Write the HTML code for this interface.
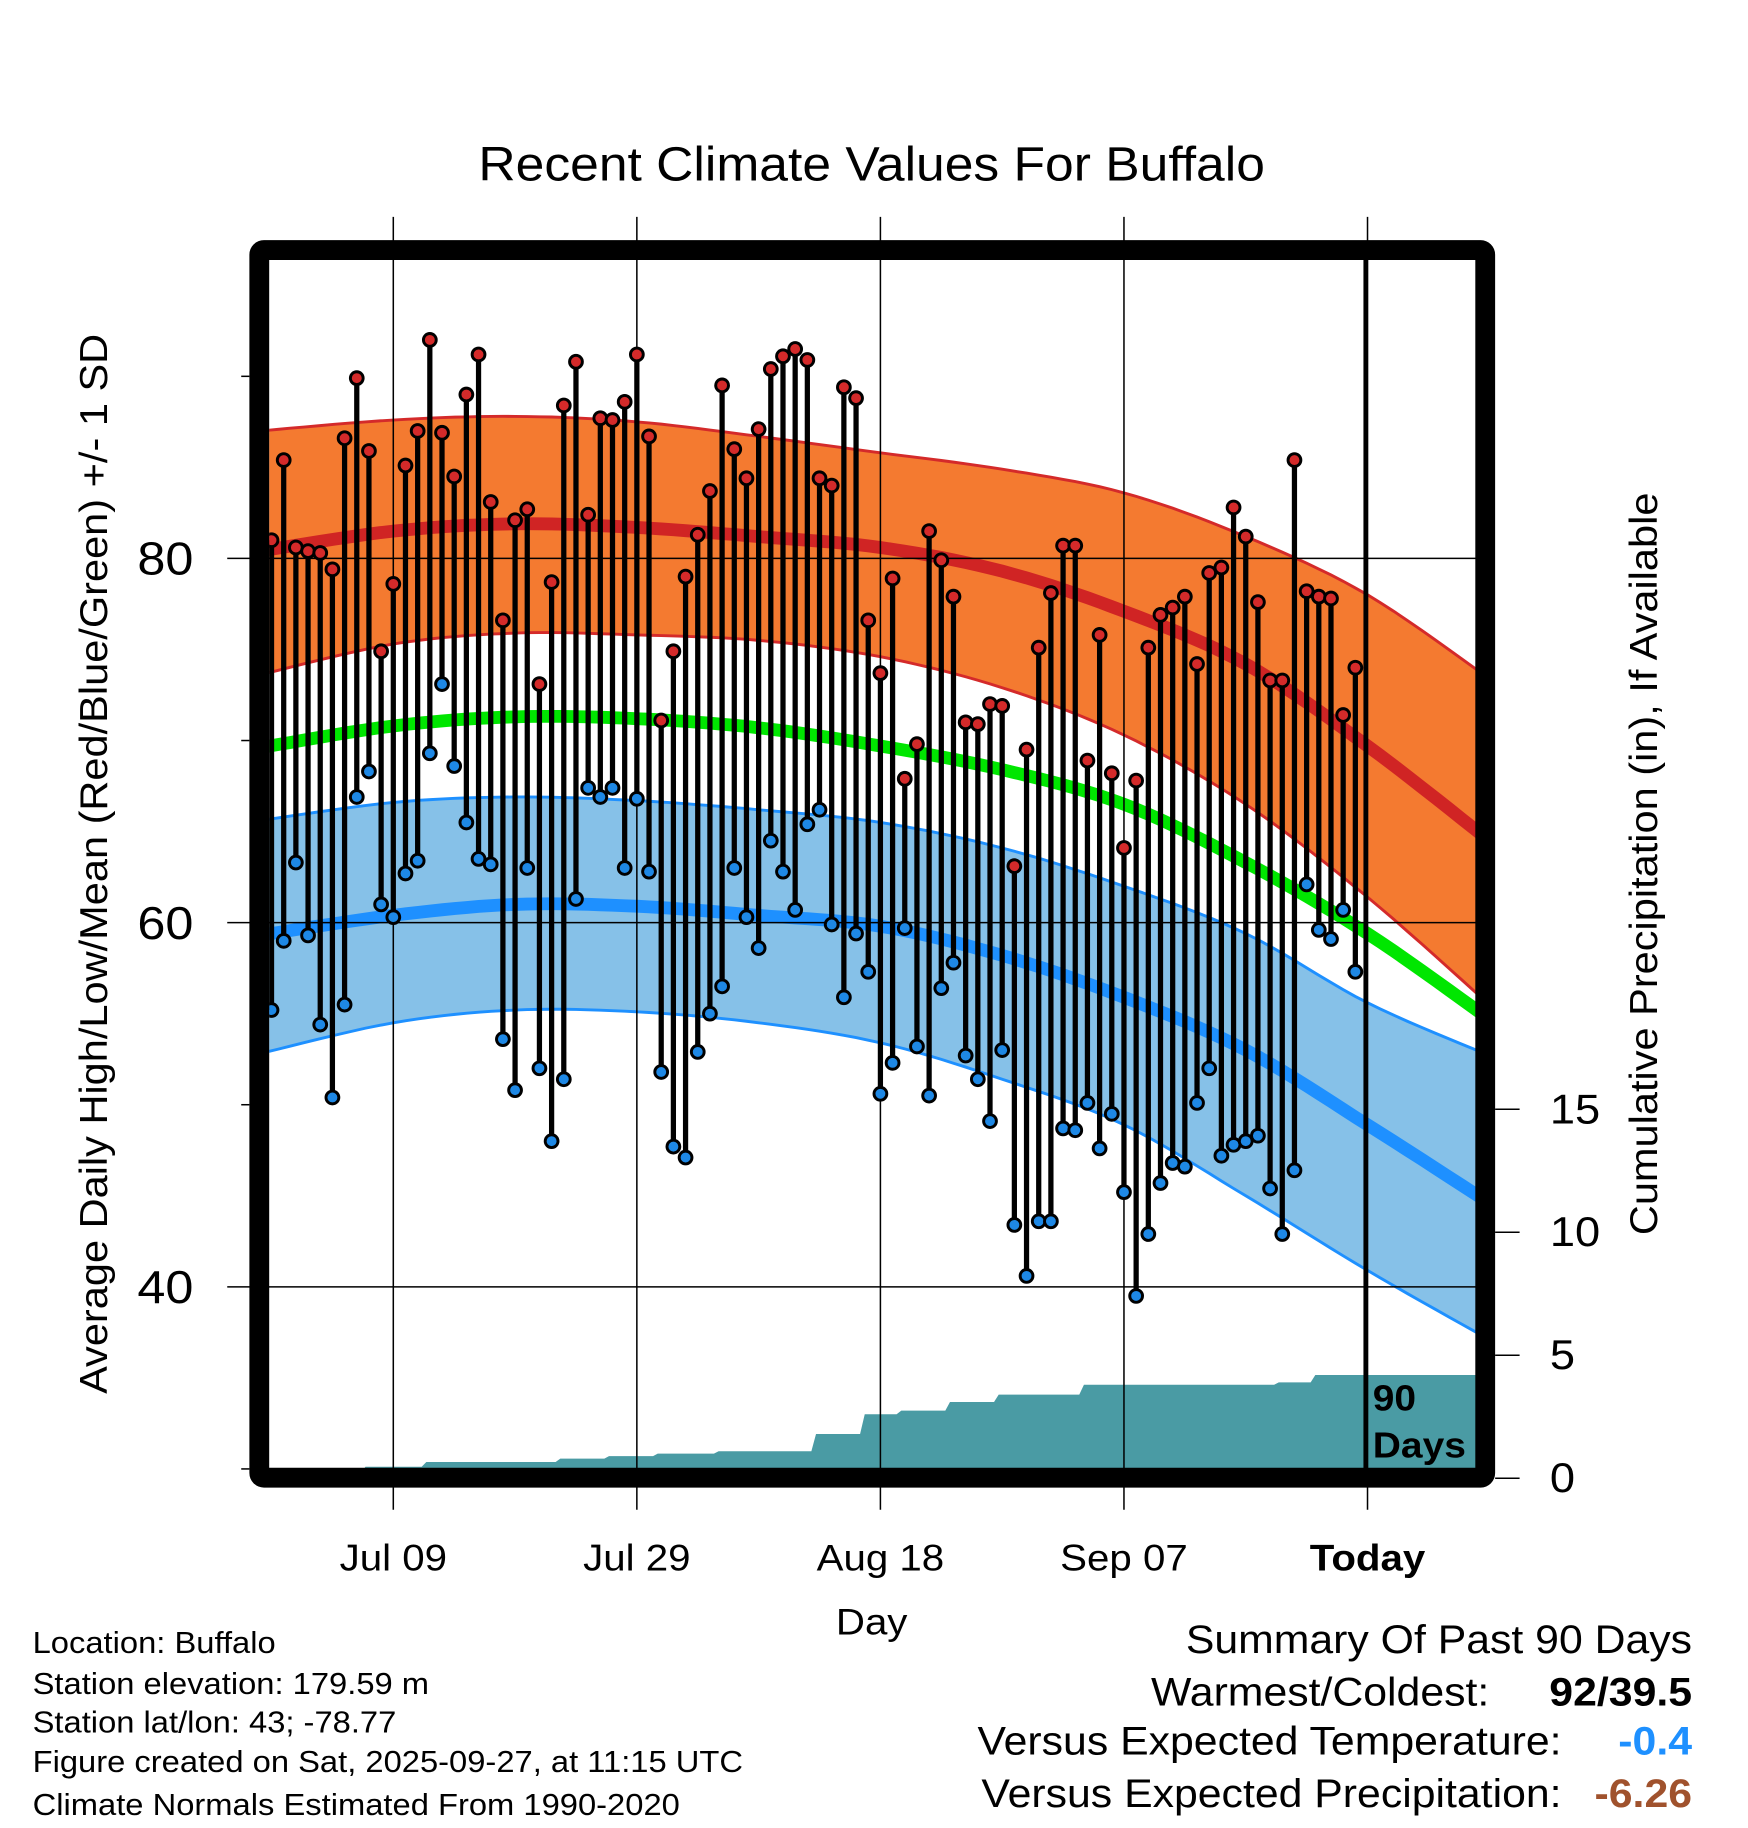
<!DOCTYPE html>
<html><head><meta charset="utf-8"><style>
html,body{margin:0;padding:0;background:#fff;}
svg{display:block;font-family:"Liberation Sans",Arial,sans-serif;}
</style></head><body>
<svg id="chart" width="1748" height="1828" viewBox="0 0 1500 1568" preserveAspectRatio="none" xmlns="http://www.w3.org/2000/svg">
<defs><clipPath id="plotclip"><rect x="231" y="224" width="1036" height="1036"/></clipPath></defs>
<rect width="1500" height="1568" fill="#fff"/>
<text x="748" y="155" font-size="41" text-anchor="middle">Recent Climate Values For Buffalo</text>
<g id="plot" clip-path="url(#plotclip)"></g>
<g id="grid"></g>
<g id="marks" clip-path="url(#plotclip)"></g>
<rect x="222.5" y="214.5" width="1052" height="1053" fill="none" stroke="#000" stroke-width="17" rx="4"/>
<line x1="1172" y1="222" x2="1172" y2="1262" stroke="#000" stroke-width="4"/>
<text x="1178" y="1210" font-size="31" font-weight="bold">90</text>
<text x="1178" y="1250" font-size="31" font-weight="bold">Days</text>
<g id="axes"></g>
<text transform="translate(92,741) rotate(-90)" font-size="33" text-anchor="middle">Average Daily High/Low/Mean (Red/Blue/Green) +/- 1 SD</text>
<text transform="translate(1422,741) rotate(-90)" font-size="33" text-anchor="middle">Cumulative Precipitation (in), If Available</text>
<text x="748" y="1402" font-size="32" text-anchor="middle">Day</text>
<g font-size="26">
<text x="28" y="1418">Location: Buffalo</text>
<text x="28" y="1453">Station elevation: 179.59 m</text>
<text x="28" y="1486">Station lat/lon: 43; -78.77</text>
<text x="28" y="1520">Figure created on Sat, 2025-09-27, at 11:15 UTC</text>
<text x="28" y="1557">Climate Normals Estimated From 1990-2020</text>
</g>
<g font-size="34">
<text x="1452" y="1418" text-anchor="end">Summary Of Past 90 Days</text>
<text x="1278" y="1463" text-anchor="end">Warmest/Coldest:</text>
<text x="1452" y="1463" text-anchor="end" font-weight="bold">92/39.5</text>
<text x="1340" y="1505" text-anchor="end">Versus Expected Temperature:</text>
<text x="1452" y="1505" text-anchor="end" font-weight="bold" fill="#1e90ff">-0.4</text>
<text x="1340" y="1550" text-anchor="end">Versus Expected Precipitation:</text>
<text x="1452" y="1550" text-anchor="end" font-weight="bold" fill="#a0522d">-6.26</text>
</g>
</svg>
<script>
const highs=[81.0,85.4,80.6,80.4,80.3,79.4,86.6,89.9,85.9,74.9,78.6,85.1,87.0,92.0,86.9,84.5,89.0,91.2,83.1,76.6,82.1,82.7,73.1,78.7,88.4,90.8,82.4,87.7,87.6,88.6,91.2,86.7,71.1,74.9,79.0,81.3,83.7,89.5,86.0,84.4,87.1,90.4,91.1,91.5,90.9,84.4,84.0,89.4,88.8,76.6,73.7,78.9,67.9,69.8,81.5,79.9,77.9,71.0,70.9,72.0,71.9,63.1,69.5,75.1,78.1,80.7,80.7,68.9,75.8,68.2,64.1,67.8,75.1,76.9,77.3,77.9,74.2,79.2,79.5,82.8,81.2,77.6,73.3,73.3,85.4,78.2,77.9,77.8,71.4,74.0];
const lows=[55.2,59.0,63.3,59.3,54.4,50.4,55.5,66.9,68.3,61.0,60.3,62.7,63.4,69.3,73.1,68.6,65.5,63.5,63.2,53.6,50.8,63.0,52.0,48.0,51.4,61.3,67.4,66.9,67.4,63.0,66.8,62.8,51.8,47.7,47.1,52.9,55.0,56.5,63.0,60.3,58.6,64.5,62.8,60.7,65.4,66.2,59.9,55.9,59.4,57.3,50.6,52.3,59.7,53.2,50.5,56.4,57.8,52.7,51.4,49.1,53.0,43.4,40.6,43.6,43.6,48.7,48.6,50.1,47.6,49.5,45.2,39.5,42.9,45.7,46.8,46.6,50.1,52.0,47.2,47.8,48.0,48.3,45.4,42.9,46.4,62.1,59.6,59.1,60.7,57.3];
const precip=[0.2,0.2,0.2,0.2,0.2,0.2,0.2,0.2,0.47,0.47,0.47,0.47,0.47,0.66,0.66,0.66,0.66,0.66,0.66,0.66,0.66,0.66,0.66,0.66,0.8,0.8,0.8,0.8,0.9,0.9,0.9,0.9,1.0,1.0,1.0,1.0,1.0,1.1,1.1,1.1,1.1,1.1,1.1,1.1,1.1,1.8,1.8,1.8,1.8,2.6,2.6,2.6,2.75,2.75,2.75,2.75,3.1,3.1,3.1,3.1,3.4,3.4,3.4,3.4,3.4,3.4,3.4,3.8,3.8,3.8,3.8,3.8,3.8,3.8,3.8,3.8,3.8,3.8,3.8,3.8,3.8,3.8,3.8,3.9,3.9,3.9,4.2,4.2,4.2,4.2];
const normDays=[-1,10,20,30,40,50,60,70,80,90,100];
const highSDTop=[87.0,87.6,87.8,87.5,86.7,85.8,84.9,83.6,81.2,78.0,73.4];
const highMean=[80.4,81.5,81.9,81.7,81.2,80.6,79.3,77.1,74.2,69.7,64.5];
const highSDBot=[73.6,75.3,75.9,75.8,75.5,74.6,72.9,70.3,66.5,61.4,55.5];
const meanNorm=[69.6,70.8,71.3,71.2,70.7,69.7,68.4,66.5,63.3,59.4,54.7];
const lowSDTop=[65.6,66.6,66.9,66.7,66.2,65.5,64.1,62.0,59.4,55.6,52.7];
const lowMean=[59.3,60.4,61.0,60.9,60.4,59.8,58.2,55.9,53.0,48.9,44.6];
const lowSDBot=[52.8,54.5,55.2,55.1,54.5,53.4,51.4,48.9,45.0,40.9,37.1];
const tempTicks=[40,60,80];
const minorTicks=[30,50,70,90];
const precipTicks=[0,5,10,15];
const dateLabels=["Jul 09","Jul 29","Aug 18","Sep 07","Today"];
const dateDays=[10,30,50,70,90];

const NS="http://www.w3.org/2000/svg";
const xs=d=>233+d*10.45;
const ys=t=>479-(t-80)*15.62;
const yp=p=>1268-p*21.1;
function el(tag,attrs,parent){const e=document.createElementNS(NS,tag);for(const k in attrs)e.setAttribute(k,attrs[k]);parent.appendChild(e);return e;}
function curvePts(vals){
  const pts=normDays.map((d,i)=>[xs(d),ys(vals[i])]);
  const out=[];
  for(let i=0;i<pts.length-1;i++){
    const p0=pts[Math.max(0,i-1)],p1=pts[i],p2=pts[i+1],p3=pts[Math.min(pts.length-1,i+2)];
    for(let s=0;s<10;s++){const t=s/10,t2=t*t,t3=t2*t;
      out.push([0.5*((2*p1[0])+(-p0[0]+p2[0])*t+(2*p0[0]-5*p1[0]+4*p2[0]-p3[0])*t2+(-p0[0]+3*p1[0]-3*p2[0]+p3[0])*t3),
               0.5*((2*p1[1])+(-p0[1]+p2[1])*t+(2*p0[1]-5*p1[1]+4*p2[1]-p3[1])*t2+(-p0[1]+3*p1[1]-3*p2[1]+p3[1])*t3)]);}
  }
  out.push(pts[pts.length-1]);return out;
}
const toD=pts=>pts.map((p,i)=>(i?'L':'M')+p[0].toFixed(1)+','+p[1].toFixed(1)).join('');
const plot=document.getElementById('plot');
function band(top,bot,fill,edge,name){
  const a=curvePts(top),b=curvePts(bot).reverse();
  const p=el('path',{d:toD(a)+toD(b).replace('M','L')+'Z',fill:fill},plot);
  
  
  const e1=el('path',{d:toD(curvePts(top)),fill:'none',stroke:edge,'stroke-width':2.5},plot);
  
  
  const e2=el('path',{d:toD(curvePts(bot)),fill:'none',stroke:edge,'stroke-width':2.5},plot);
  
  
}
band(highSDTop,highSDBot,'#f47a30','#d42a2a','high-sd-band');
band(lowSDTop,lowSDBot,'#86c1e8','#1e90ff','low-sd-band');
function line(vals,color,w,name){const p=el('path',{d:toD(curvePts(vals)),fill:'none',stroke:color,'stroke-width':w},plot);
  
  }
line(highMean,'#d02424',11,'normal-high-line');
line(meanNorm,'#00e600',11,'normal-mean-line');
line(lowMean,'#1e90ff',11,'normal-low-line');
let pd='M225,'+yp(0);
for(let i=0;i<precip.length;i++){const x0=i===0?225:xs(i)-3,x1=i===precip.length-1?1270:xs(i+1)-7;pd+='L'+x0+','+yp(precip[i])+'L'+x1+','+yp(precip[i]);}
pd+='L1270,'+yp(0)+'Z';
const pa=el('path',{d:pd,fill:'#4a9ba4'},plot);


const grid=document.getElementById('grid');
tempTicks.forEach(t=>{const g=el('line',{x1:195,x2:1267,y1:ys(t),y2:ys(t),stroke:'#000','stroke-width':1.3},grid);
  
  });
dateDays.forEach(d=>{const g=el('line',{x1:xs(d),x2:xs(d),y1:186,y2:1295,stroke:'#000','stroke-width':1.3},grid);
  
  });
const marks=document.getElementById('marks');
highs.forEach((h,i)=>{
  const x=xs(i);
  const s=el('line',{x1:x,x2:x,y1:ys(h),y2:ys(lows[i]),stroke:'#000','stroke-width':4.5},marks);
  
  
});
highs.forEach((h,i)=>{
  const x=xs(i);
  const c1=el('circle',{cx:x,cy:ys(h),r:5.5,fill:'#d42a2a',stroke:'#000','stroke-width':2.5},marks);
  
  
  const c2=el('circle',{cx:x,cy:ys(lows[i]),r:5.5,fill:'#1e88e5',stroke:'#000','stroke-width':2.5},marks);
  
  
});
const axes=document.getElementById('axes');
tempTicks.forEach(t=>{const tx=el('text',{x:166,y:ys(t)+14,'font-size':40,'text-anchor':'end'},axes);tx.textContent=t;
  
  });
minorTicks.forEach(t=>{const tk=el('line',{x1:207,x2:214,y1:ys(t),y2:ys(t),stroke:'#000','stroke-width':1.3},axes);
  
  });
precipTicks.forEach(p=>{const tk=el('line',{x1:1283,x2:1304,y1:yp(p),y2:yp(p),stroke:'#000','stroke-width':1.3},axes);
  
  
  const tx=el('text',{x:1330,y:yp(p)+12,'font-size':36},axes);tx.textContent=p;
  
  });
dateLabels.forEach((l,i)=>{const tx=el('text',{x:xs(dateDays[i]),y:1347,'font-size':32,'text-anchor':'middle','font-weight':l==='Today'?'bold':'normal'},axes);tx.textContent=l;
  
  });
// widen text horizontally to match reference glyph proportions
document.querySelectorAll('#chart text').forEach(t=>{
  const len=t.getComputedTextLength();
  if(len>0){t.setAttribute('textLength',(len*1.08).toFixed(1));t.setAttribute('lengthAdjust','spacingAndGlyphs');}
});
</script>
</body></html>
